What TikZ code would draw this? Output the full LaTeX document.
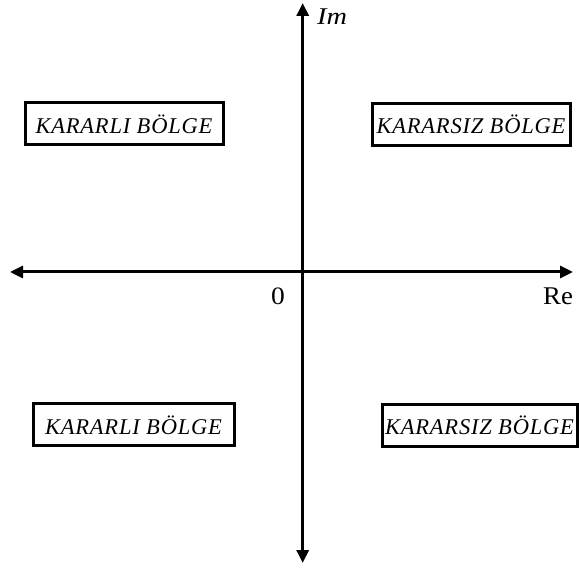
\documentclass[tikz,border=0pt]{standalone}
\usepackage{fontspec}
\setmainfont{Liberation Serif}
\newfontfamily\regionfont[LetterSpace=3.5]{Liberation Serif}
\usetikzlibrary{arrows.meta}
% horizontally widened text
\newcommand{\widetext}[2]{\scalebox{#1}[1]{#2}}
\begin{document}
\begin{tikzpicture}[x=1pt,y=-1pt,
  axis/.style={line width=3pt,{Triangle[length=13pt,width=12pt]}-{Triangle[length=13pt,width=12pt]}},
  region/.style={draw,line width=3pt,inner sep=0pt,minimum height=42pt,
    font=\fontsize{22.5}{22.5}\regionfont\itshape},
  lbl/.style={inner sep=0pt,anchor=base west}]
\useasboundingbox (0,0) rectangle (579,569);

% axes
\coordinate (xl) at (10,272);
\coordinate (xr) at (573,272);
\coordinate (yt) at (302.7,3);
\coordinate (yb) at (302.7,563);
\draw[axis] (xl) -- (xr);
\draw[axis] (yb) -- (yt);

% axis labels
\node[lbl,font=\fontsize{24}{24}\selectfont\itshape] (im) at (317,25) {\widetext{1.18}{Im}};
\node[inner sep=0pt,anchor=base,font=\fontsize{25}{25}\selectfont] (zero) at (278,305) {\widetext{1.1}{0}};
\node[lbl,font=\fontsize{25.5}{25.5}\selectfont] (re) at (543,305) {\widetext{1.05}{Re}};

% regions
\node[region,minimum width=198pt] (ul) at (124,124) {KARARLI BÖLGE};
\node[region,minimum width=198pt] (ur) at (471,124.5) {KARARSIZ BÖLGE};
\node[region,minimum width=201pt] (ll) at (133.5,425) {KARARLI BÖLGE};
\node[region,minimum width=195pt] (lr) at (479.5,425.5) {KARARSIZ BÖLGE};
\end{tikzpicture}
\end{document}
